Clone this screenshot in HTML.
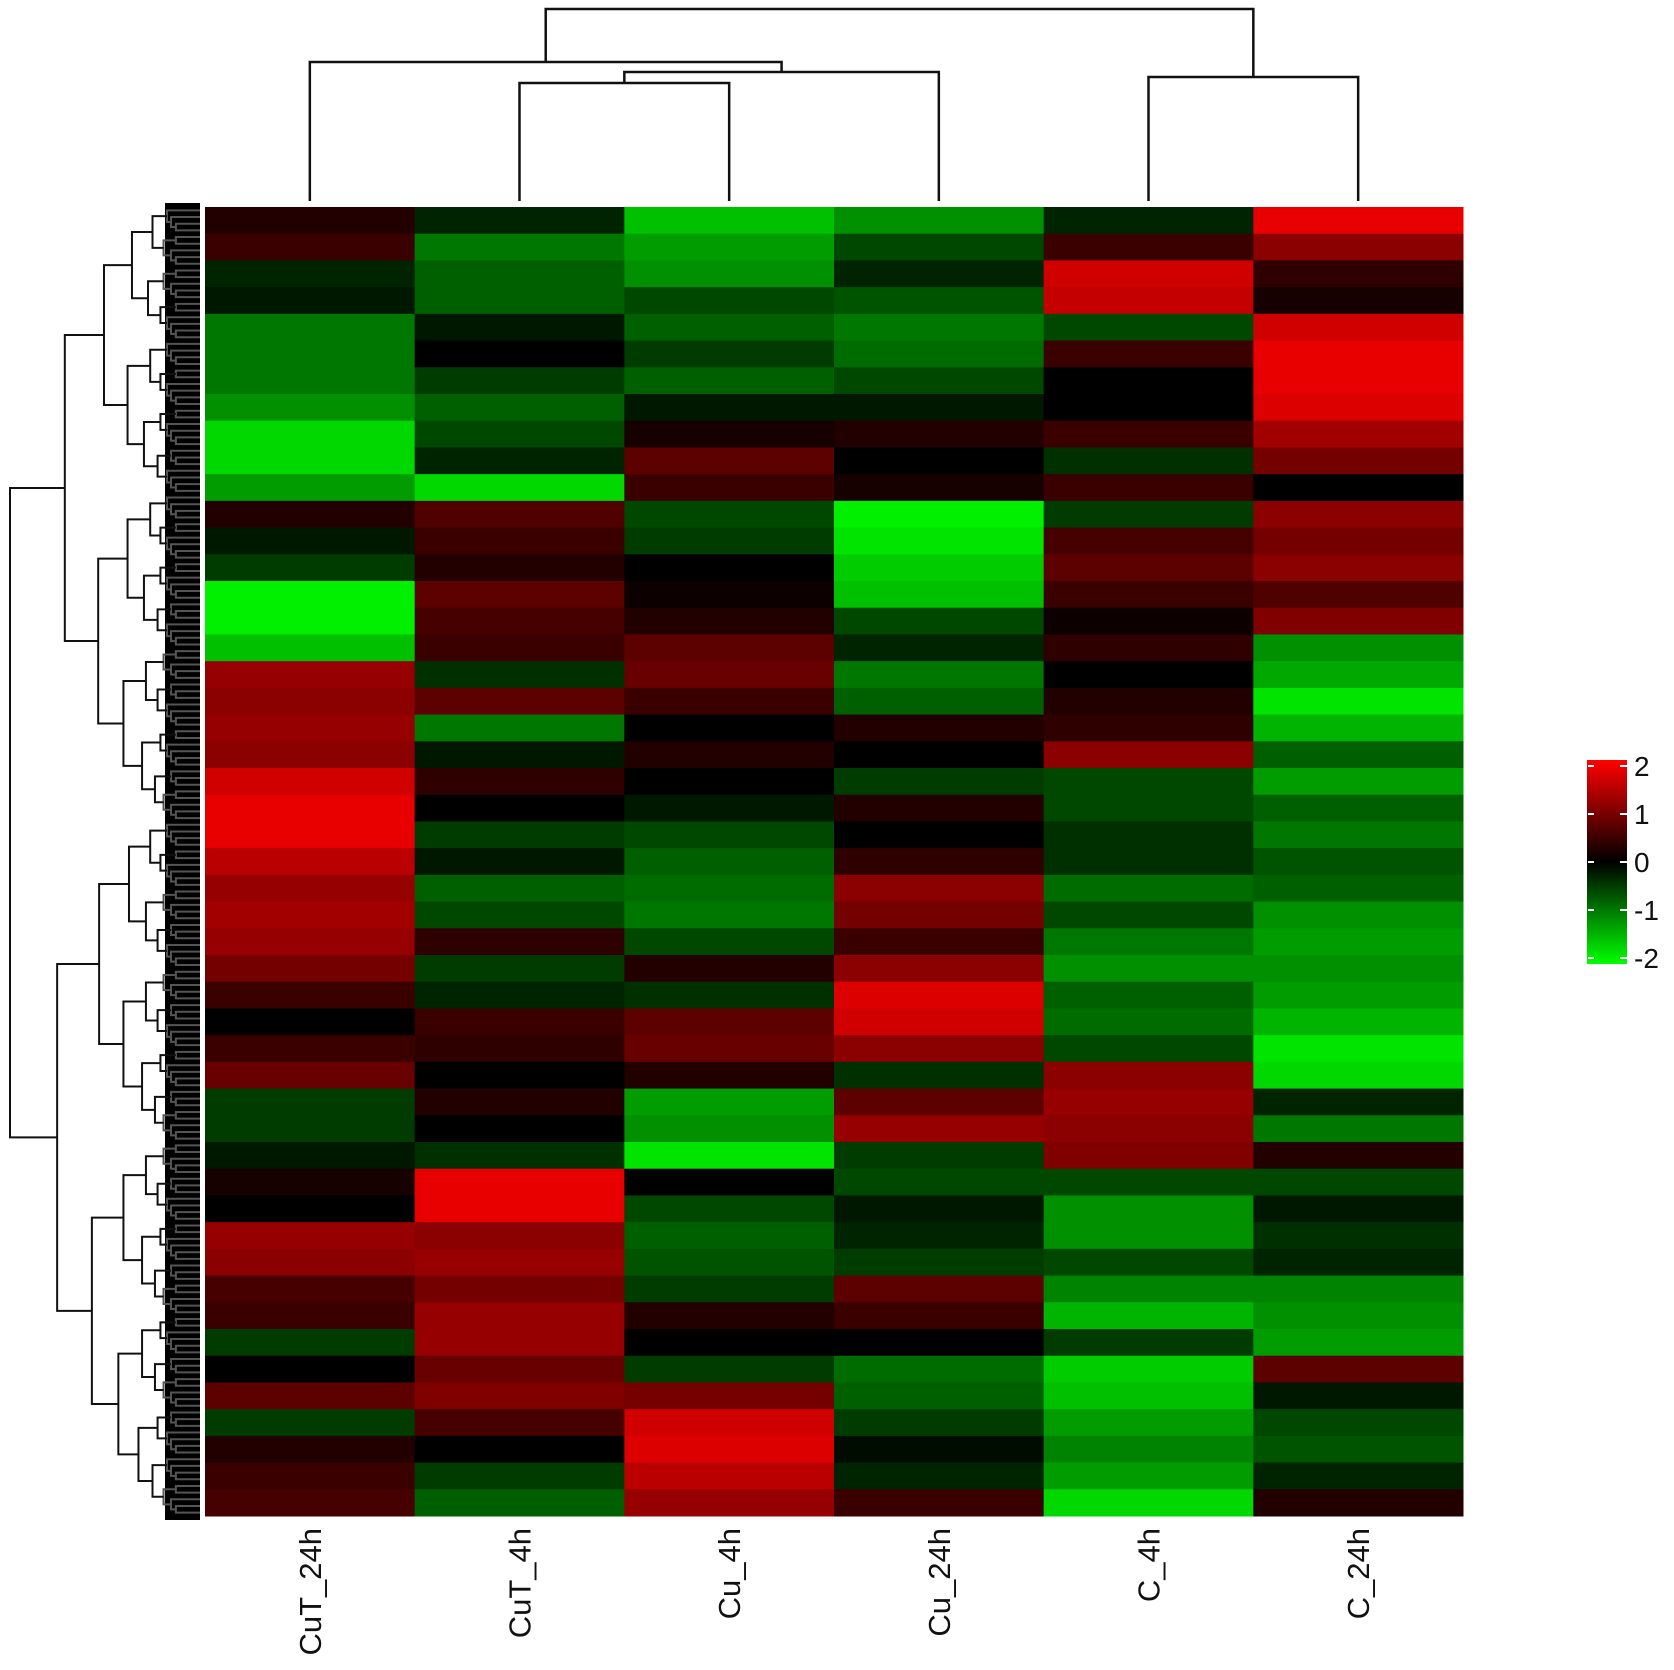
<!DOCTYPE html>
<html><head><meta charset="utf-8"><style>
html,body{margin:0;padding:0;background:#fff;}
svg{display:block;}
text{font-family:"Liberation Sans",sans-serif;fill:#111;}
</style></head><body>
<svg id="chart" width="1674" height="1670" viewBox="0 0 1674 1670" xmlns="http://www.w3.org/2000/svg">
<g id="rowdend"></g>
<g id="heat"></g>
<g id="coldend" stroke="#111" stroke-width="2.5" fill="none"></g>
<g id="labels"></g>
<g id="legend"></g>
</svg>
<script>
const samples = ["CuT_24h","CuT_4h","Cu_4h","Cu_24h","C_4h","C_24h"];
const colCuT24 = [0.3,0.5,-0.3,-0.2,-1,-1,-1,-1.2,-1.8,-1.8,-1.3,0.3,-0.2,-0.5,-2,-2,-1.6,1.3,1.2,1.3,1.2,1.8,2,2,1.6,1.3,1.4,1.3,1.0,0.5,0,0.5,0.9,-0.5,-0.5,-0.2,0.2,0,1.3,1.2,0.6,0.5,-0.5,0,0.8,-0.5,0.3,0.5,0.6];
const colCuT4 = [-0.3,-1,-0.8,-0.8,-0.2,0,-0.5,-0.8,-0.6,-0.3,-1.8,0.7,0.5,0.3,0.8,0.6,0.5,-0.4,0.8,-1,-0.2,0.4,0,-0.5,-0.2,-0.8,-0.6,0.4,-0.5,-0.3,0.5,0.4,0,0.3,0,-0.4,2,2,1.2,1.3,1.0,1.3,1.3,0.9,1.1,0.6,0,-0.5,-0.8];
const colCu4 = [-1.6,-1.3,-1.2,-0.6,-0.8,-0.5,-0.8,-0.2,0.2,0.8,0.5,-0.6,-0.5,0,0.1,0.3,0.8,0.9,0.5,0,0.3,0,-0.2,-0.6,-0.8,-0.9,-1,-0.6,0.3,-0.4,0.8,0.9,0.3,-1.3,-1.2,-1.9,0,-0.6,-0.8,-0.7,-0.5,0.3,0,-0.5,1.0,1.8,1.9,1.6,1.3];
const colCu24 = [-1.2,-0.6,-0.3,-0.7,-1,-0.9,-0.6,-0.2,0.3,0,0.2,-2,-1.9,-1.7,-1.6,-0.6,-0.3,-1,-0.8,0.3,0,-0.5,0.3,0,0.4,1.2,1.0,0.5,1.2,1.9,1.8,1.2,-0.4,0.8,1.3,-0.5,-0.6,-0.2,-0.3,-0.5,0.8,0.5,0,-0.9,-0.8,-0.5,-0.1,-0.3,0.5];
const colC4 = [-0.3,0.5,1.8,1.7,-0.6,0.5,0,0,0.5,-0.4,0.5,-0.5,0.6,0.8,0.5,0.1,0.4,0,0.3,0.4,1.2,-0.6,-0.6,-0.4,-0.4,-0.9,-0.6,-1,-1.2,-0.8,-0.9,-0.6,1.2,1.3,1.2,1.1,-0.6,-1.2,-1.2,-0.6,-1.1,-1.5,-0.5,-1.7,-1.6,-1.3,-1.1,-1.3,-1.8];
const colC24 = [2,1.2,0.4,0.2,1.8,2,2,1.9,1.4,1.0,0,1.2,1.0,1.2,0.7,1.1,-1.2,-1.4,-1.9,-1.5,-0.8,-1.3,-0.8,-1.0,-0.7,-0.8,-1.2,-1.3,-1.2,-1.3,-1.5,-1.9,-1.8,-0.3,-1.0,0.3,-0.6,-0.2,-0.4,-0.3,-1.1,-1.2,-1.3,0.8,-0.2,-0.6,-0.7,-0.3,0.3];
const columns = [colCuT24,colCuT4,colCu4,colCu24,colC4,colC24];
const legendTicks = [2,1,0,-1,-2];

const NS="http://www.w3.org/2000/svg";
const X0=205,X1=1463,Y0=207,Y1=1516;
const nBands=colCuT24.length;
const colW=(X1-X0)/samples.length, bandH=(Y1-Y0)/nBands;
const xPos=i=>X0+i*colW, yPos=j=>Y0+j*bandH;
function color(v){v=Math.max(-2,Math.min(2,v));
  return v>=0?`rgb(${Math.round(232*v/2)},0,0)`:`rgb(0,${Math.round(240*-v/2)},0)`;}
function mk(tag,attrs,parent){const e=document.createElementNS(NS,tag);for(const k in attrs)e.setAttribute(k,attrs[k]);parent.appendChild(e);return e;}

const heat=document.getElementById('heat');
columns.forEach((col,i)=>{col.forEach((v,j)=>{
  const r=mk('rect',{x:xPos(i),y:yPos(j),width:colW+0.5,height:bandH+0.5,fill:color(v)},heat);
  
  
});});

const labels=document.getElementById('labels');
samples.forEach((s,i)=>{const cx=xPos(i)+colW/2+11;
  const t=mk('text',{x:0,y:0,'font-size':31,'text-anchor':'end',transform:`translate(${cx},1528) rotate(-90)`},labels);
  t.textContent=s;
  
  
});

// column dendrogram
const cd=document.getElementById('coldend');
const cx=i=>xPos(i)+colW/2;
function seg(pts){mk('polyline',{points:pts.map(p=>p.join(',')).join(' ')},cd);}
seg([[cx(1),201],[cx(1),83],[cx(2),83],[cx(2),201]]);
const m12=(cx(1)+cx(2))/2;
seg([[m12,83],[m12,72],[cx(3),72],[cx(3),201]]);
const m123=(m12+cx(3))/2;
seg([[cx(0),201],[cx(0),62],[m123,62],[m123,72]]);
const mL=(cx(0)+m123)/2;
seg([[cx(4),201],[cx(4),77],[cx(5),77],[cx(5),201]]);
const mR=(cx(4)+cx(5))/2;
seg([[mL,62],[mL,9],[mR,9],[mR,77]]);

// row dendrogram (structural)
const rd=document.getElementById('rowdend');
const N=196, lh=(Y1-Y0)/N;
mk('rect',{x:165,y:Y0-4,width:35,height:Y1-Y0+8,fill:'#000'},rd);
function build(lo,hi){
  if(hi-lo<=1)return{x:200,y:Y0+(lo+0.5)*lh};
  const size=hi-lo; const mid=lo+Math.max(1,Math.floor(size*0.47));
  const a=build(lo,mid), b=build(mid,hi);
  const x=200-190*Math.pow(size/N,0.45);
  mk('polyline',{points:`${a.x},${a.y} ${x},${a.y} ${x},${b.y} ${b.x},${b.y}`,fill:'none',stroke:size<6?'#555':'#111','stroke-width':2},rd);
  return{x:x,y:(a.y+b.y)/2};
}
build(0,N);

// legend
const lg=document.getElementById('legend');
const defs=mk('defs',{},lg);
const gr=mk('linearGradient',{id:'lgrad',x1:0,y1:0,x2:0,y2:1},defs);
mk('stop',{offset:'0%','stop-color':'#ff0000'},gr);
mk('stop',{offset:'50%','stop-color':'#000000'},gr);
mk('stop',{offset:'100%','stop-color':'#00ff00'},gr);
const LY0=766,LY1=958;
const lv=v=>LY0+(2-v)/4*(LY1-LY0);
const bar=mk('rect',{x:1587,y:760,width:40,height:204,fill:'url(#lgrad)'},lg);


legendTicks.forEach(v=>{
  mk('line',{x1:1588,x2:1594,y1:lv(v),y2:lv(v),stroke:'#fff','stroke-width':2},lg);
  mk('line',{x1:1620,x2:1627,y1:lv(v),y2:lv(v),stroke:'#fff','stroke-width':2},lg);
  const t=mk('text',{x:1634,y:lv(v)+10,'font-size':28},lg);
  t.textContent=v;
  
  
});
</script>
</body></html>
